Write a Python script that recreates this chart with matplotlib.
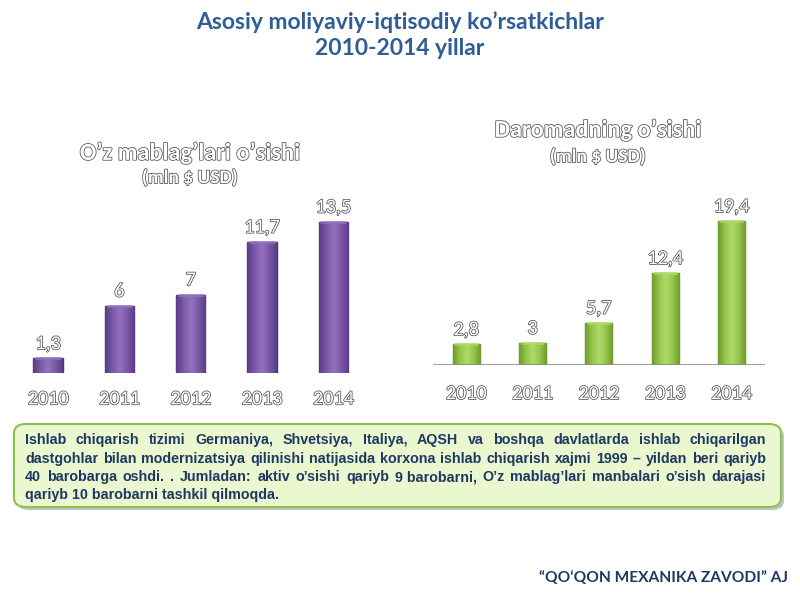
import matplotlib
matplotlib.use("Agg")
import numpy as np
import matplotlib.pyplot as plt
import matplotlib.patheffects as pe
from matplotlib.patches import FancyBboxPatch
from matplotlib.colors import LinearSegmentedColormap
from matplotlib.font_manager import FontProperties

years = ["2010", "2011", "2012", "2013", "2014"]
own_funds = [1.3, 6, 7, 11.7, 13.5]
income = [2.8, 3, 5.7, 12.4, 19.4]

title = "Asosiy moliyaviy-iqtisodiy ko\u2019rsatkichlar\n2010-2014 yillar"
left_title = "O\u2019z mablag\u2019lari o\u2019sishi"
right_title = "Daromadning o\u2019sishi"
unit = "(mln $ USD)"
footer = "\u201cQO\u2018QON MEXANIKA ZAVODI\u201d AJ"
box_lines = [
    "Ishlab chiqarish tizimi Germaniya, Shvetsiya, Italiya, AQSH va boshqa davlatlarda ishlab chiqarilgan",
    "dastgohlar bilan modernizatsiya qilinishi natijasida korxona ishlab chiqarish xajmi 1999 \u2013 yildan beri qariyb",
    "40 barobarga oshdi. .  Jumladan: aktiv o\u2019sishi qariyb 9 barobarni, O\u2019z mablag\u2019lari manbalari o\u2019sish darajasi",
    "qariyb 10 barobarni tashkil qilmoqda.",
]

W, H = 800, 600
fig = plt.figure(figsize=(8, 6), dpi=100)
fig.patch.set_facecolor("white")

cal = "Carlito"
outline = [pe.Stroke(linewidth=1.1, foreground="#505050"), pe.Normal()]

def fmt(v):
    return f"{v:g}".replace(".", ",")

def px_axes(x0, x1, ybase, ytop):
    return fig.add_axes([x0 / W, (H - ybase) / H, (x1 - x0) / W, (ybase - ytop) / H])

def shade_bars(ax, bars, dark, mid, light):
    cmap = LinearSegmentedColormap.from_list("g", [dark, mid, light, mid, dark])
    grad = np.linspace(0, 1, 128).reshape(1, -1)
    for b in bars:
        x0, y0 = b.get_x(), b.get_y()
        w, h = b.get_width(), b.get_height()
        im = ax.imshow(grad, cmap=cmap, extent=(x0, x0 + w, y0, y0 + h),
                       aspect="auto", zorder=b.get_zorder() + 0.1, interpolation="bicubic")
        im.set_clip_path(b)
        ax.plot([x0 + w * 0.06, x0 + w * 0.94], [y0 + h, y0 + h], color=light,
                linewidth=2.0, alpha=0.8, zorder=b.get_zorder() + 0.2, solid_capstyle="butt")

xs = list(range(len(years)))
vfs, yfs = 14.5, 14.5

# Left chart
axL = px_axes(12.4, 369, 373, 200)
barsL = axL.bar(xs, own_funds, width=0.41, color="#7e5ca9", edgecolor="#4b3173", linewidth=1.0)
shade_bars(axL, barsL, "#5a3d85", "#7b59a8", "#9272bd")
axL.set_xlim(-0.5, 4.5)
axL.set_ylim(0, 173 / 11.2)
for x, v in zip(xs, own_funds):
    axL.text(x, v + 0.55, fmt(v), ha="center", va="bottom", fontsize=vfs, color="white",
             family=cal, path_effects=outline)
axL.axis("off")
for x, y in zip(xs, years):
    axL.text(x, -1.55, y, ha="center", va="top", fontsize=yfs, color="white",
             family=cal, path_effects=outline)

# Right chart
axR = px_axes(433, 764.6, 365, 200)
barsR = axR.bar(xs, income, width=0.41, color="#97c94c", edgecolor="#5f8a24", linewidth=1.0)
shade_bars(axR, barsR, "#6f9a2c", "#95c64a", "#b1d96c")
axR.set_xlim(-0.5, 4.5)
axR.set_ylim(0, 165 / 7.42)
for x, v in zip(xs, income):
    axR.text(x, v + 0.8, fmt(v), ha="center", va="bottom", fontsize=vfs, color="white",
             family=cal, path_effects=outline)
axR.axis("off")
axR.axhline(0, color="#8c8c8c", linewidth=1.2)
for x, y in zip(xs, years):
    axR.text(x, -2.7, y, ha="center", va="top", fontsize=yfs, color="white",
             family=cal, path_effects=outline)

# Chart titles
fig.text(190 / W, 1 - 153 / H, left_title, ha="center", va="center", fontsize=17.5,
         fontweight="bold", color="white", family=cal, path_effects=outline)
fig.text(190 / W, 1 - 178 / H, unit, ha="center", va="center", fontsize=14,
         fontweight="bold", color="white", family=cal, path_effects=outline)
fig.text(598 / W, 1 - 130 / H, right_title, ha="center", va="center", fontsize=17.5,
         fontweight="bold", color="white", family=cal, path_effects=outline)
fig.text(598 / W, 1 - 157 / H, unit, ha="center", va="center", fontsize=14,
         fontweight="bold", color="white", family=cal, path_effects=outline)

# Main title
fig.text(400 / W, 1 - 35 / H, title, ha="center", va="center", fontsize=16.5,
         fontweight="bold", color="#2f5d95", family="Lato", linespacing=1.3)

# Text box with shadow
shadow = FancyBboxPatch((17 / W, 1 - 510 / H), 767 / W, 83 / H,
                        boxstyle="round,pad=0,rounding_size=0.015",
                        transform=fig.transFigure, facecolor="#9a9a9a",
                        edgecolor="none", alpha=0.6)
fig.patches.append(shadow)
box = FancyBboxPatch((14 / W, 1 - 507 / H), 767 / W, 83 / H,
                     boxstyle="round,pad=0,rounding_size=0.015",
                     transform=fig.transFigure, facecolor="#eaf7cf",
                     edgecolor="#8cc152", linewidth=1.5)
fig.patches.append(box)

renderer = fig.canvas.get_renderer()
fam = "Liberation Sans"
fs = 10.3
prop = FontProperties(family=fam, weight="bold", size=fs)
left_px, right_px = 25, 766
ys = [444, 463, 481, 499]

def tokens(line):
    raw = [w for w in line.split(" ") if w != ""]
    out = []
    i = 0
    while i < len(raw):
        w = raw[i]
        if len(w) == 1 and w.isdigit() and i + 1 < len(raw):
            w = w + " " + raw[i + 1]
            i += 1
        out.append(w)
        i += 1
    return out

for i, (line, yy) in enumerate(zip(box_lines, ys)):
    if i == len(box_lines) - 1:
        fig.text(left_px / W, 1 - yy / H, line, ha="left", va="baseline",
                 fontproperties=prop, color="#1f3864")
        continue
    words = tokens(line)
    widths = [renderer.get_text_width_height_descent(w, prop, ismath=False)[0]
              for w in words]
    gap = (right_px - left_px - sum(widths)) / (len(words) - 1)
    x = left_px
    for w, wd in zip(words, widths):
        fig.text(x / W, 1 - yy / H, w, ha="left", va="baseline",
                 fontproperties=prop, color="#1f3864")
        x += wd + gap

fig.text(788 / W, 1 - 578 / H, footer, ha="right", va="center", fontsize=11.2,
         fontweight="bold", color="#1f3864", family="Lato")

fig.savefig("out.png", dpi=100)
